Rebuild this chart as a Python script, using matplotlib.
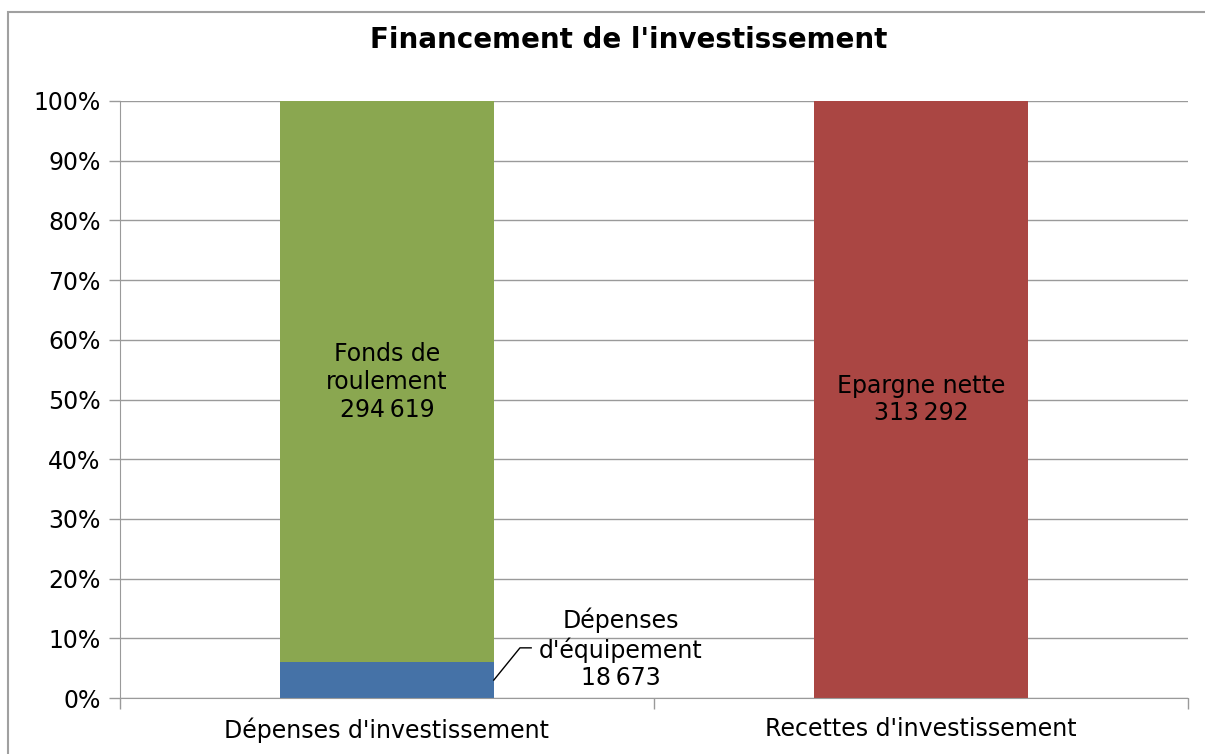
import matplotlib.pyplot as plt
import numpy as np

# data
categories = ["Dépenses d'investissement", "Recettes d'investissement"]
series_names = ["Dépenses d'équipement", "Fonds de roulement", "Epargne nette"]
equipement = [18673, 0]
fonds_roulement = [294619, 0]
epargne_nette = [0, 313292]
colors = ["#4572A7", "#8AA750", "#AA4643"]

values = np.array([equipement, fonds_roulement, epargne_nette], dtype=float)
totals = values.sum(axis=0)
pct = values / totals * 100

FS = 17

fig = plt.figure(figsize=(12.05, 7.54), dpi=100)
ax = fig.add_axes([120 / 1205, 1 - 698 / 754, 1068 / 1205, 597 / 754])

x = np.arange(len(categories))
bottom = np.zeros(len(categories))
for row, color in zip(pct, colors):
    ax.bar(x, row, 0.4, bottom=bottom, color=color, zorder=2)
    bottom += row

ax.set_xlim(-0.5, 1.5)
ax.set_ylim(0, 100)
ax.set_yticks(np.arange(0, 101, 10))
ax.set_yticklabels(["%d%%" % v for v in range(0, 101, 10)], fontsize=FS)
ax.yaxis.grid(True, color="#9a9a9a", linewidth=1, zorder=0)
ax.tick_params(axis="y", length=8, color="#9a9a9a", width=1, pad=6)

ax.set_xticks(x)
ax.set_xticklabels(categories, fontsize=FS)
ax.set_xticks([-0.5, 0.5, 1.5], minor=True)
ax.tick_params(axis="x", which="major", length=0, pad=14)
ax.tick_params(axis="x", which="minor", length=8, color="#9a9a9a", width=1)

for side in ["top", "right"]:
    ax.spines[side].set_visible(False)
for side in ["left", "bottom"]:
    ax.spines[side].set_color("#9a9a9a")

def fmt(v):
    return "{:,}".format(int(v)).replace(",", "\u2009")

# data labels
ax.text(0, pct[0, 0] + pct[1, 0] / 2, "Fonds de\nroulement\n" + fmt(fonds_roulement[0]),
        ha="center", va="center", fontsize=FS, linespacing=1.2, zorder=3)
ax.text(1, pct[2, 1] / 2, "Epargne nette\n" + fmt(epargne_nette[1]),
        ha="center", va="center", fontsize=FS, linespacing=1.2, zorder=3)
ax.text(0.438, 8.2, "Dépenses\nd'équipement\n" + fmt(equipement[0]),
        ha="center", va="center", fontsize=FS, linespacing=1.2, zorder=3)
ax.plot([0.2, 0.249, 0.27], [3.0, 8.4, 8.4], color="black", linewidth=1, zorder=3)

fig.text(629 / 1205, 1 - 40 / 754, "Financement de l'investissement", ha="center", va="center",
         fontsize=20, fontweight="bold")

# chart border
fig.patches.append(plt.Rectangle((8 / 1205, -0.01), 1.0, 1 - 12 / 754 + 0.01,
                                 transform=fig.transFigure, fill=False,
                                 edgecolor="#a0a0a0", linewidth=1.5))

fig.savefig("out.png", dpi=100)
